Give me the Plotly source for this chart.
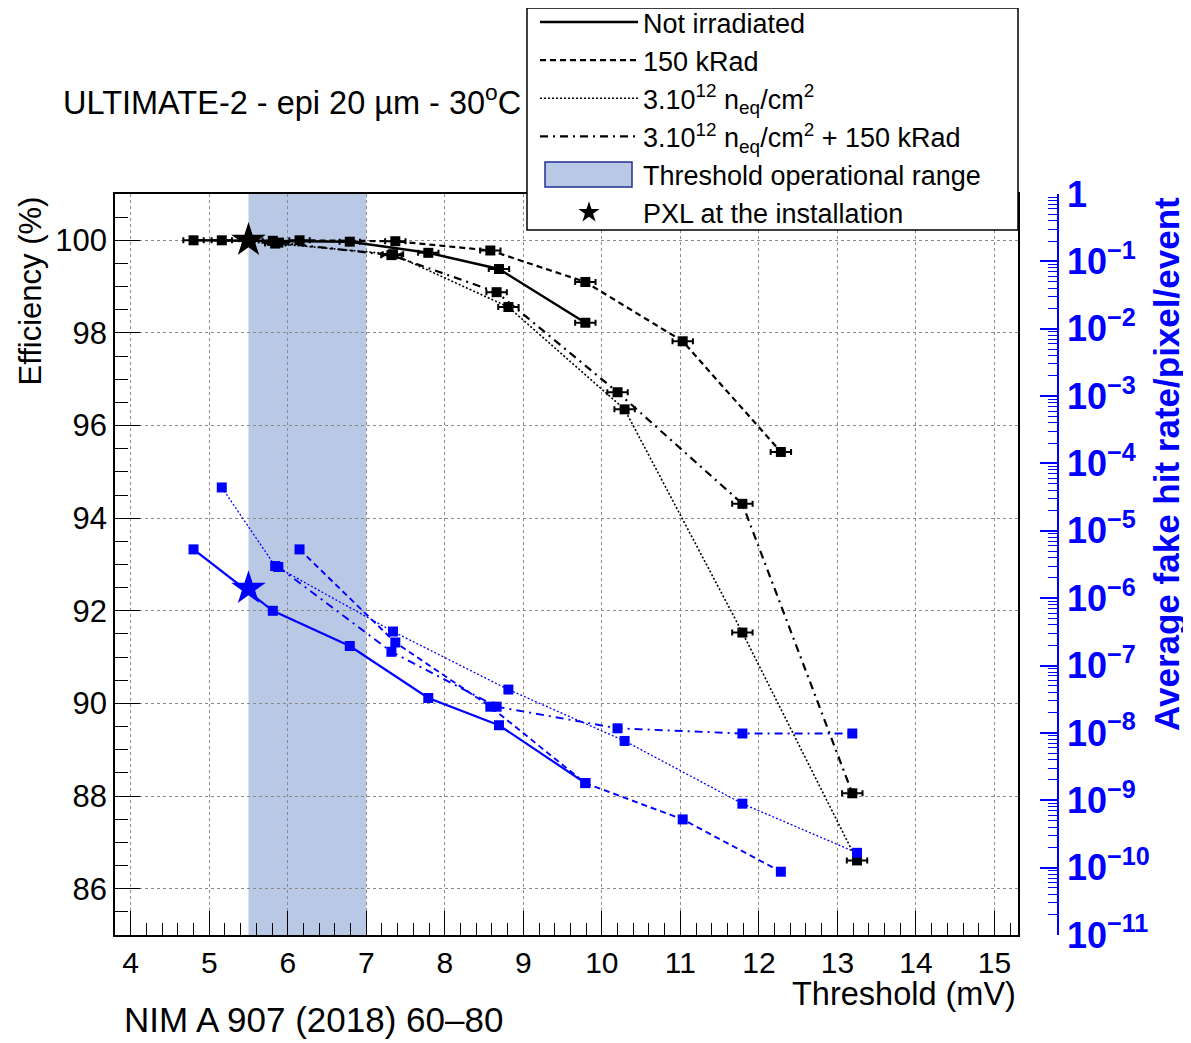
import plotly.graph_objects as go

# ---------------- data ----------------
x_notirr = [4.8, 5.81, 6.79, 7.79, 8.69, 9.79]
eff_notirr = [100.0, 99.99, 99.97, 99.73, 99.38, 98.22]
fhr_notirr = [5.3e-6, 6.5e-7, 1.95e-7, 3.3e-8, 1.3e-8, 1.8e-9]

x_150k = [6.15, 7.37, 8.58, 9.79, 11.03, 12.28]
eff_150k = [100.0, 99.98, 99.78, 99.10, 97.82, 95.43]
fhr_150k = [5.3e-6, 2.2e-7, 2.45e-8, 1.8e-9, 5.2e-10, 8.7e-11]

x_neq = [5.16, 5.84, 7.34, 8.81, 10.29, 11.79, 13.25]
eff_neq = [100.0, 99.93, 99.70, 98.56, 96.35, 91.53, 86.61]
fhr_neq = [4.4e-5, 3.0e-6, 3.2e-7, 4.4e-8, 7.6e-9, 8.9e-10, 1.66e-10]

x_both = [5.88, 7.32, 8.66, 10.20, 11.79, 13.19]
eff_both = [99.95, 99.68, 98.88, 96.72, 94.31, 88.06]
fhr_both = [2.9e-6, 1.6e-7, 2.45e-8, 1.17e-8, 9.8e-9, 9.8e-9]

pxl_x = [5.5]
pxl_eff = [100.0]
pxl_fhr = [1.4e-6]

op_range = [5.5, 7.0]

series_names = ["Not irradiated", "150 kRad",
                "3.10<sup>12</sup> n<sub>eq</sub>/cm<sup>2</sup>",
                "3.10<sup>12</sup> n<sub>eq</sub>/cm<sup>2</sup> + 150 kRad"]
series_dash = ["solid", "6px,4px", "2px,2px", "8px,5px,2px,5px"]
series_w = [2.5, 2.2, 1.6, 2.2]

x_ticks = list(range(4, 16))
y_ticks = list(range(86, 101, 2))
log_major = list(range(-11, 1))

BLUE = "#0000ff"
BAND = "rgb(185,200,228)"
FONT = "Liberation Sans, Arial, sans-serif"

# page geometry (page pixels; the page body has an 8px offset at top/left)
OFF = 8
PW = 943.0           # paper width: plot left (115) to blue axis (1058)
PH = 741.0           # plot height: 194 -> 935
def px(xpix):
    return (xpix - 115) / PW
def py(ypix):
    return (935 - ypix) / PH
XDOM = 903 / PW

fig = go.Figure()

# operational range band
fig.add_shape(type="rect", xref="x", yref="paper", x0=op_range[0], x1=op_range[1],
              y0=0, y1=1, fillcolor=BAND, line_width=0, layer="below")

data = [(x_notirr, eff_notirr, fhr_notirr), (x_150k, eff_150k, fhr_150k),
        (x_neq, eff_neq, fhr_neq), (x_both, eff_both, fhr_both)]

for i, (xs, es, fs) in enumerate(data):
    fig.add_trace(go.Scatter(
        x=xs, y=es, mode="lines+markers", showlegend=False,
        line=dict(color="black", width=series_w[i], dash=series_dash[i]),
        marker=dict(symbol="square", size=10, color="black"),
        error_x=dict(type="constant", value=0.13, color="black", thickness=2, width=3),
        yaxis="y"))
    fig.add_trace(go.Scatter(
        x=xs, y=fs, mode="lines+markers", showlegend=False,
        line=dict(color=BLUE, width=series_w[i] - 0.3, dash=series_dash[i]),
        marker=dict(symbol="square", size=10, color=BLUE),
        yaxis="y2"))

# PXL stars
fig.add_trace(go.Scatter(x=pxl_x, y=pxl_eff, mode="markers", showlegend=False,
                         marker=dict(symbol="star", size=26, color="black"), yaxis="y"))
fig.add_trace(go.Scatter(x=pxl_x, y=pxl_fhr, mode="markers", showlegend=False,
                         marker=dict(symbol="star", size=26, color=BLUE), yaxis="y2"))

# helper trace for the major-tick log axis
fig.add_trace(go.Scatter(x=[None], y=[None], showlegend=False, yaxis="y3", hoverinfo="skip"))

# legend entries
for i in range(4):
    fig.add_trace(go.Scatter(x=[None], y=[None], mode="lines", name=series_names[i],
                             line=dict(color="black", width=series_w[i], dash=series_dash[i]),
                             legendrank=i + 1))
fig.add_trace(go.Scatter(x=[None], y=[None], mode="lines", name="Threshold operational range",
                         line=dict(color="rgba(0,0,0,0)", width=1), legendrank=5))
fig.add_trace(go.Scatter(x=[None], y=[None], mode="markers", name="PXL at the installation",
                         marker=dict(symbol="star", size=24, color="black"), legendrank=6))

# legend frame and the filled-box sample
fig.add_shape(type="rect", xref="paper", yref="paper", x0=px(527), x1=px(1018),
              y0=py(230), y1=py(8), fillcolor="white", line=dict(color="black", width=1.5),
              layer="above")
fig.add_shape(type="rect", xref="paper", yref="paper", x0=px(545), x1=px(632),
              y0=py(187), y1=py(162), fillcolor=BAND, line=dict(color="#203090", width=1.5),
              layer="above")

minor_vals = []
for d in range(-11, 0):
    for m in range(2, 10):
        minor_vals.append(m * 10 ** d)
major_vals = [10.0 ** d for d in log_major]
major_text = ["10<sup>\u2212%d</sup>" % (-d) if d < 0 else "1" for d in log_major]

fig.update_layout(
    width=1191 - OFF, height=1043 - OFF,
    margin=dict(l=115 - OFF, r=1191 - 1058, t=194 - OFF, b=1043 - 935, autoexpand=False),
    paper_bgcolor="white", plot_bgcolor="white",
    font=dict(family=FONT, color="black"),
    xaxis=dict(domain=[0, XDOM], range=[3.8, 15.3], tickvals=x_ticks, ticks="inside", ticklen=24,
               tickwidth=1, tickcolor="black", tickfont=dict(size=30),
               minor=dict(dtick=0.2, tick0=0, ticks="inside", ticklen=12, tickcolor="black", showgrid=False),
               showgrid=True, gridcolor="#8a8a8a", griddash="dot", gridwidth=1.2,
               showline=True, linecolor="black", linewidth=1.5, mirror=True, zeroline=False),
    yaxis=dict(range=[85, 101], tickvals=y_ticks, ticks="inside", ticklen=25, tickwidth=1,
               tickcolor="black", tickfont=dict(size=31),
               minor=dict(dtick=0.5, tick0=0, ticks="inside", ticklen=13, tickcolor="black", showgrid=False),
               showgrid=True, gridcolor="#8a8a8a", griddash="dot", gridwidth=1.2,
               showline=True, linecolor="black", linewidth=1.5, mirror=True, zeroline=False),
    yaxis2=dict(type="log", range=[-11, 0], overlaying="y", side="right", anchor="free",
                position=1.0, tickvals=minor_vals, showticklabels=False, ticks="inside",
                ticklen=9, tickcolor=BLUE, tickwidth=1, showgrid=False, showline=True,
                linecolor=BLUE, linewidth=1.5, zeroline=False),
    yaxis3=dict(type="log", range=[-11, 0], overlaying="y", side="right", anchor="free",
                position=1.0, tickvals=major_vals, ticktext=major_text, ticks="inside",
                ticklen=18, tickcolor=BLUE, tickwidth=1.5, showgrid=False, showline=False,
                ticklabelstandoff=8,
                tickfont=dict(size=36, color=BLUE, weight="bold"), zeroline=False),
    legend=dict(x=px(535), xanchor="left", y=py(-2), yanchor="top", bgcolor="rgba(0,0,0,0)",
                borderwidth=0, font=dict(size=27, family=FONT),
                itemwidth=98, tracegroupgap=0),
    annotations=[
        dict(text="ULTIMATE-2 - epi 20 \u00b5m - 30<sup>o</sup>C", xref="paper", yref="paper",
             x=px(61), y=py(100), xanchor="left", yanchor="middle", showarrow=False,
             font=dict(size=32.5)),
        dict(text="Efficiency (%)", xref="paper", yref="paper", x=px(30), y=py(195),
             xanchor="center", yanchor="top", textangle=-90, showarrow=False, font=dict(size=31)),
        dict(text="Threshold (mV)", xref="paper", yref="paper", x=px(1018), y=py(994),
             xanchor="right", yanchor="middle", showarrow=False, font=dict(size=32.5)),
        dict(text="NIM A 907 (2018) 60\u201380", xref="paper", yref="paper", x=px(122), y=py(1019),
             xanchor="left", yanchor="middle", showarrow=False, font=dict(size=35)),
        dict(text="<b>Average fake hit rate/pixel/event</b>", xref="paper", yref="paper",
             x=px(1166), y=py(195), xanchor="center", yanchor="top", textangle=-90, showarrow=False,
             font=dict(size=35, color=BLUE)),
    ],
)

fig.write_html("out.html")
